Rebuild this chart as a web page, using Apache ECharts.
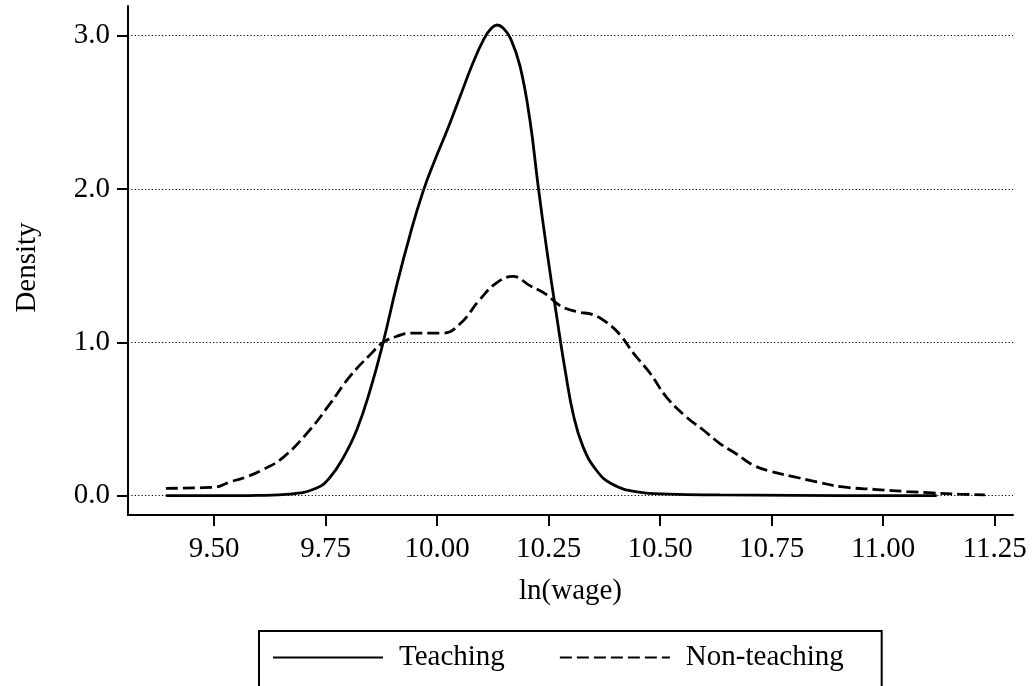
<!DOCTYPE html>
<html>
<head>
<meta charset="utf-8">
<script src="https://cdn.jsdelivr.net/npm/echarts@6/dist/echarts.min.js"></script>
<style>
  html, body { margin: 0; padding: 0; background: #fff; }
  #chart { width: 1032px; height: 686px; }
</style>
</head>
<body>
<div id="chart"></div>
<script>
// Kernel density of ln(wage), teaching vs non-teaching staff
const teachingX = [9.392, 9.50, 9.60, 9.67, 9.73, 9.76, 9.79, 9.82, 9.85, 9.879, 9.91, 9.94, 9.968, 9.995, 10.022, 10.051, 10.08, 10.105, 10.122, 10.134, 10.148, 10.165, 10.186, 10.208, 10.226, 10.246, 10.268, 10.288, 10.306, 10.327, 10.356, 10.39, 10.448, 10.52, 10.634, 10.80, 11.00, 11.12];
const teachingY = [0.0, 0.0, 0.002, 0.01, 0.05, 0.12, 0.25, 0.43, 0.69, 1.0, 1.38, 1.71, 1.98, 2.19, 2.38, 2.60, 2.82, 2.98, 3.05, 3.07, 3.05, 2.98, 2.80, 2.45, 2.03, 1.60, 1.17, 0.80, 0.52, 0.32, 0.17, 0.08, 0.025, 0.01, 0.005, 0.002, 0.0, 0.0];

const nonTeachingX = [9.392, 9.50, 9.536, 9.57, 9.61, 9.655, 9.715, 9.76, 9.805, 9.85, 9.879, 9.91, 9.94, 9.98, 10.013, 10.051, 10.096, 10.134, 10.17, 10.208, 10.246, 10.275, 10.313, 10.35, 10.38, 10.41, 10.44, 10.477, 10.515, 10.56, 10.596, 10.634, 10.672, 10.708, 10.746, 10.798, 10.851, 10.91, 10.986, 11.053, 11.11, 11.17, 11.228];
const nonTeachingY = [0.048, 0.055, 0.09, 0.12, 0.17, 0.25, 0.43, 0.60, 0.78, 0.92, 1.0, 1.04, 1.06, 1.06, 1.06, 1.12, 1.28, 1.39, 1.43, 1.37, 1.31, 1.24, 1.20, 1.18, 1.13, 1.05, 0.93, 0.80, 0.64, 0.51, 0.43, 0.34, 0.27, 0.20, 0.16, 0.125, 0.09, 0.057, 0.04, 0.027, 0.018, 0.01, 0.005];

const xTicks = [9.50, 9.75, 10.00, 10.25, 10.50, 10.75, 11.00, 11.25];
const yTicks = [0, 1, 2, 3];

const seriesNames = ['Teaching', 'Non-teaching'];

const FONT = '"Liberation Serif", "Times New Roman", serif';
const FONT_SIZE = 29;
const INK = '#000';

function pairs(xs, ys) {
  return xs.map((x, i) => [x, ys[i]]);
}

const chart = echarts.init(document.getElementById('chart'), null, { renderer: 'canvas' });

chart.setOption({
  backgroundColor: '#fff',
  animation: false,
  textStyle: { fontFamily: FONT, color: INK },
  grid: { left: 128, right: 19, top: 6, bottom: 171, containLabel: false },
  xAxis: {
    type: 'value',
    min: 9.307,
    max: 11.291,
    name: 'ln(wage)',
    nameLocation: 'middle',
    nameGap: 62,
    nameTextStyle: { fontFamily: FONT, fontSize: FONT_SIZE, color: INK },
    axisLine: { show: true, onZero: false, lineStyle: { color: INK, width: 2 } },
    axisTick: { show: true, customValues: xTicks, length: 11, lineStyle: { color: INK, width: 2 } },
    axisLabel: {
      show: true, customValues: xTicks, margin: 20,
      fontFamily: FONT, fontSize: FONT_SIZE, color: INK,
      formatter: v => v.toFixed(2)
    },
    splitLine: { show: false }
  },
  yAxis: {
    type: 'value',
    min: -0.126,
    max: 3.194,
    name: 'Density',
    nameLocation: 'middle',
    nameGap: 86,
    nameRotate: 90,
    nameTextStyle: { fontFamily: FONT, fontSize: FONT_SIZE, color: INK, padding: [0, 14, 0, 0] },
    axisLine: { show: true, onZero: false, lineStyle: { color: INK, width: 2 } },
    axisTick: { show: true, customValues: yTicks, length: 11, lineStyle: { color: INK, width: 2 } },
    axisLabel: {
      show: true, customValues: yTicks, margin: 18,
      fontFamily: FONT, fontSize: FONT_SIZE, color: INK,
      formatter: v => v.toFixed(1)
    },
    splitLine: { show: false }
  },
  legend: {
    data: seriesNames,
    left: 259,
    top: 631,
    orient: 'horizontal',
    itemWidth: 110,
    itemHeight: 14,
    itemGap: 54,
    padding: [12, 38, 40, 13],
    borderColor: INK,
    borderWidth: 2,
    itemStyle: { opacity: 0 },
    textStyle: { fontFamily: FONT, fontSize: FONT_SIZE, color: INK, padding: [0, 0, 0, 11] }
  },
  series: [
    {
      name: seriesNames[0],
      type: 'line',
      data: pairs(teachingX, teachingY),
      smooth: 0.45,
      symbol: 'none',
      lineStyle: { color: INK, width: 2.8, type: 'solid' },
      itemStyle: { color: INK },
      z: 3,
      markLine: {
        silent: true,
        symbol: 'none',
        label: { show: false },
        lineStyle: { color: INK, width: 1, type: [1.2, 2.2] },
        data: yTicks.map(v => ({ yAxis: v })),
        z: 1
      }
    },
    {
      name: seriesNames[1],
      type: 'line',
      data: pairs(nonTeachingX, nonTeachingY),
      smooth: 0.45,
      symbol: 'none',
      lineStyle: { color: INK, width: 2.8, type: [12, 5] },
      itemStyle: { color: INK },
      z: 3
    }
  ]
});
</script>
</body>
</html>
